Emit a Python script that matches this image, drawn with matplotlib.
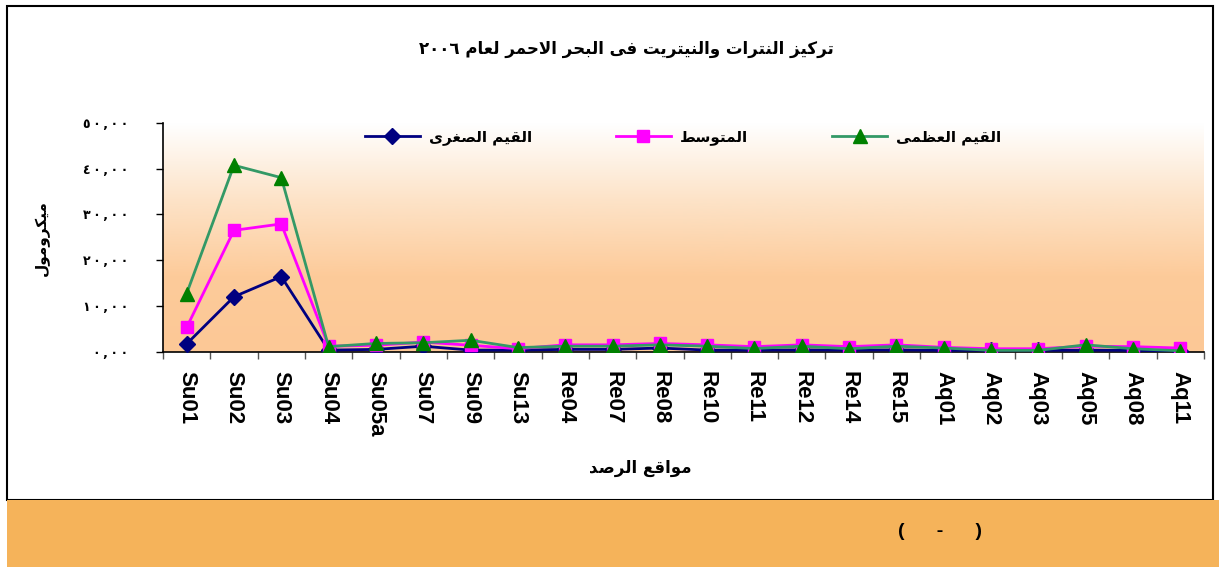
import re

import matplotlib
matplotlib.use("Agg")
import matplotlib.pyplot as plt
import numpy as np
from matplotlib.colors import LinearSegmentedColormap
from matplotlib.patches import Rectangle

# ── data ──────────────────────────────────────────────────────────────────────
SITES = ["Su01", "Su02", "Su03", "Su04", "Su05a", "Su07", "Su09", "Su13",
         "Re04", "Re07", "Re08", "Re10", "Re11", "Re12", "Re14", "Re15",
         "Aq01", "Aq02", "Aq03", "Aq05", "Aq08", "Aq11"]
MIN_VALS = [1.7, 12.0, 16.4, 0.35, 0.5, 1.2, 0.35, 0.35,
            0.5, 0.5, 0.8, 0.35, 0.35, 0.4, 0.35, 0.4,
            0.3, 0.3, 0.3, 0.35, 0.3, 0.1]
MEAN_VALS = [5.3, 26.5, 27.9, 1.2, 1.4, 2.1, 1.4, 0.65,
             1.5, 1.5, 1.8, 1.5, 1.1, 1.5, 1.1, 1.5,
             0.95, 0.65, 0.65, 1.2, 1.1, 0.8]
MAX_VALS = [12.7, 40.7, 38.0, 1.1, 1.8, 1.95, 2.5, 0.9,
            1.2, 1.2, 1.5, 1.2, 0.7, 1.2, 0.65, 1.2,
            0.8, 0.3, 0.3, 1.5, 0.65, 0.2]
Y_TICKS = [0, 10, 20, 30, 40, 50]
Y_TICK_LABELS = ["٠,٠٠", "١٠,٠٠", "٢٠,٠٠", "٣٠,٠٠", "٤٠,٠٠", "٥٠,٠٠"]

TITLE = "تركيز النترات والنيتريت فى البحر الاحمر لعام ٢٠٠٦"
Y_LABEL = "ميكرومول"
X_LABEL = "مواقع الرصد"
LBL_MIN = "القيم الصغرى"
LBL_MEAN = "المتوسط"
LBL_MAX = "القيم العظمى"
FOOTER = "(      -      )"

W, H = 1219, 567

# ── minimal arabic shaping (matplotlib has no bidi / joining) ─────────────────
# letter: (isolated, final, initial, medial); None => does not join forward
FORMS = {
    "ا": ("\uFE8D", "\uFE8E", None, None),
    "ب": ("\uFE8F", "\uFE90", "\uFE91", "\uFE92"),
    "ت": ("\uFE95", "\uFE96", "\uFE97", "\uFE98"),
    "ح": ("\uFEA1", "\uFEA2", "\uFEA3", "\uFEA4"),
    "د": ("\uFEA9", "\uFEAA", None, None),
    "ر": ("\uFEAD", "\uFEAE", None, None),
    "ز": ("\uFEAF", "\uFEB0", None, None),
    "س": ("\uFEB1", "\uFEB2", "\uFEB3", "\uFEB4"),
    "ص": ("\uFEB9", "\uFEBA", "\uFEBB", "\uFEBC"),
    "ط": ("\uFEC1", "\uFEC2", "\uFEC3", "\uFEC4"),
    "ظ": ("\uFEC5", "\uFEC6", "\uFEC7", "\uFEC8"),
    "ع": ("\uFEC9", "\uFECA", "\uFECB", "\uFECC"),
    "غ": ("\uFECD", "\uFECE", "\uFECF", "\uFED0"),
    "ف": ("\uFED1", "\uFED2", "\uFED3", "\uFED4"),
    "ق": ("\uFED5", "\uFED6", "\uFED7", "\uFED8"),
    "ك": ("\uFED9", "\uFEDA", "\uFEDB", "\uFEDC"),
    "ل": ("\uFEDD", "\uFEDE", "\uFEDF", "\uFEE0"),
    "م": ("\uFEE1", "\uFEE2", "\uFEE3", "\uFEE4"),
    "ن": ("\uFEE5", "\uFEE6", "\uFEE7", "\uFEE8"),
    "و": ("\uFEED", "\uFEEE", None, None),
    "ى": ("\uFEEF", "\uFEF0", None, None),
    "ي": ("\uFEF1", "\uFEF2", "\uFEF3", "\uFEF4"),
}


def _joins_fwd(c):
    return c in FORMS and FORMS[c][2] is not None


def ar(text):
    out = []
    i, n = 0, len(text)
    while i < n:
        c = text[i]
        prev = text[i - 1] if i > 0 else ""
        con_prev = _joins_fwd(prev)
        if c == "ل" and i + 1 < n and text[i + 1] == "ا":
            out.append("\uFEFC" if con_prev else "\uFEFB")
            i += 2
            continue
        if c not in FORMS:
            out.append(c)
            i += 1
            continue
        nxt = text[i + 1] if i + 1 < n else ""
        con_next = nxt in FORMS and _joins_fwd(c)
        iso, fin, ini, med = FORMS[c]
        if con_prev and con_next:
            out.append(med)
        elif con_prev:
            out.append(fin)
        elif con_next:
            out.append(ini)
        else:
            out.append(iso)
        i += 1
    vis = "".join(out)[::-1]
    # digit runs stay left-to-right
    return re.sub(r"[0-9\u0660-\u0669,]+", lambda m: m.group(0)[::-1], vis)


# ── figure ────────────────────────────────────────────────────────────────────
fig = plt.figure(figsize=(W / 100, H / 100), dpi=100)
fig.patch.set_facecolor("white")

AR_FONT = "DejaVu Sans"
LAT_FONT = "Liberation Sans"

# outer frame + orange footer band
fig.add_artist(Rectangle((7 / W, 1 - 500 / H), (1213 - 7) / W, (500 - 6) / H,
                         transform=fig.transFigure, facecolor="none",
                         edgecolor="black", linewidth=1.5, zorder=1))
fig.add_artist(Rectangle((7 / W, 0), 1 - 7 / W, 67 / H,
                         transform=fig.transFigure, facecolor="#F5B35A",
                         edgecolor="none", zorder=2))
fig.text(940 / W, 1 - 532 / H, FOOTER, ha="center", va="center",
         fontsize=14, fontweight="bold", family=LAT_FONT, zorder=3)

ax = fig.add_axes([163 / W, 1 - 351.7 / H, (1204 - 163) / W, (351.7 - 122.7) / H])
x = np.arange(len(SITES))

# white -> peach gradient
grad = LinearSegmentedColormap.from_list("bg", ["#FFFFFF", "#FDE3C8", "#FDCB9A", "#FCC896"])
ax.imshow(np.linspace(0, 1, 256).reshape(-1, 1), cmap=grad, aspect="auto",
          extent=[-0.5, len(SITES) - 0.5, 0, 50], origin="upper", zorder=0)

ax.plot(x, MIN_VALS, color="#000080", lw=2, marker="D", ms=8,
        mfc="#000080", mec="#000080", label=ar(LBL_MIN), zorder=3)
ax.plot(x, MEAN_VALS, color="#FF00FF", lw=2, marker="s", ms=9,
        mfc="#FF00FF", mec="#FF00FF", label=ar(LBL_MEAN), zorder=4)
ax.plot(x, MAX_VALS, color="#339966", lw=2, marker="^", ms=10,
        mfc="#008000", mec="#008000", label=ar(LBL_MAX), zorder=5)

ax.set_xlim(-0.5, len(SITES) - 0.5)
ax.set_ylim(0, 50)
for s in ("top", "right"):
    ax.spines[s].set_visible(False)
for s in ("left", "bottom"):
    ax.spines[s].set_linewidth(1.2)

ax.set_yticks(Y_TICKS)
ax.set_yticklabels(["\u2009".join(t) for t in Y_TICK_LABELS], fontsize=9,
                   fontweight="bold", family=AR_FONT)
ax.tick_params(axis="y", length=5, width=1, pad=20)

ax.set_xticks(x)
ax.set_xticklabels(SITES, rotation=-90, fontsize=16, fontweight="bold",
                   family=LAT_FONT, va="top", ha="center")
ax.set_xticks(np.arange(len(SITES) + 1) - 0.5, minor=True)
ax.tick_params(axis="x", which="major", length=0, pad=14)
ax.tick_params(axis="x", which="minor", length=5, width=1, color="#555555")

fig.text(626 / W, 1 - 49 / H, ar(TITLE), ha="center", va="center",
         fontsize=12, fontweight="bold", family=AR_FONT)
fig.text(42 / W, 1 - 238 / H, ar(Y_LABEL), ha="center", va="center",
         rotation=90, fontsize=11, fontweight="bold", family=AR_FONT)
fig.text(640 / W, 1 - 468 / H, ar(X_LABEL), ha="center", va="center",
         fontsize=12, fontweight="bold", family=AR_FONT)

ax.legend(loc="center", bbox_to_anchor=((683 - 163) / (1204 - 163), 1 + (122.7 - 137) / 229),
          ncol=3, frameon=False, handlelength=3.6, handletextpad=0.6,
          columnspacing=5.5, prop={"family": AR_FONT, "weight": "bold", "size": 11})

fig.savefig("out.png", dpi=100)
